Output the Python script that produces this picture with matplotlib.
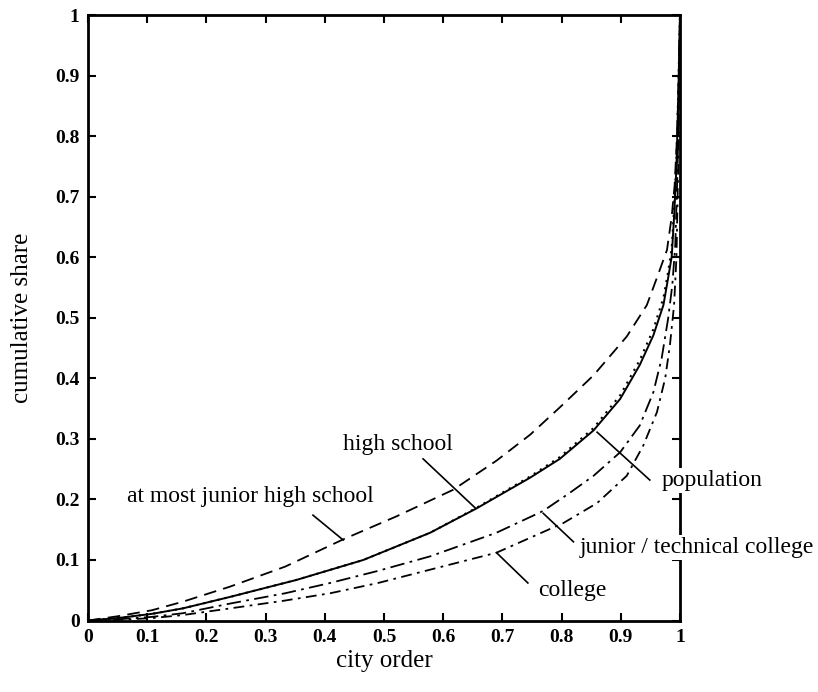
import numpy as np
import matplotlib.pyplot as plt

plt.rcParams['font.family'] = 'Liberation Serif'

# curves (city order vs cumulative share)
x_junior_high = [0, 0.05, 0.108, 0.16, 0.24, 0.333, 0.431, 0.521, 0.617, 0.69, 0.747,
                 0.797, 0.854, 0.91, 0.944, 0.961, 0.978, 0.986, 0.991, 0.995, 0.998, 1.0]
y_junior_high = [0, 0.007, 0.017, 0.031, 0.056, 0.089, 0.134, 0.172, 0.216, 0.264, 0.307,
                 0.352, 0.405, 0.469, 0.521, 0.566, 0.612, 0.667, 0.72, 0.80, 0.90, 1.0]

x_high_school = [0, 0.05, 0.108, 0.16, 0.24, 0.352, 0.465, 0.578, 0.656, 0.747, 0.797,
                 0.854, 0.899, 0.932, 0.955, 0.972, 0.98, 0.986, 0.99, 0.994, 0.997, 1.0]
y_high_school = [0, 0.004, 0.011, 0.02, 0.039, 0.067, 0.1, 0.145, 0.185, 0.236, 0.267,
                 0.314, 0.366, 0.422, 0.471, 0.521, 0.566, 0.601, 0.667, 0.75, 0.86, 1.0]

x_population = [0, 0.05, 0.108, 0.16, 0.24, 0.352, 0.465, 0.578, 0.656, 0.747, 0.797,
                0.854, 0.899, 0.932, 0.955, 0.972, 0.98, 0.986, 0.99, 0.994, 0.997, 1.0]
y_population = [0, 0.004, 0.011, 0.02, 0.039, 0.067, 0.1, 0.145, 0.186, 0.238, 0.27,
                0.318, 0.372, 0.43, 0.481, 0.533, 0.576, 0.615, 0.68, 0.76, 0.87, 1.0]

x_junior_tech = [0, 0.05, 0.108, 0.16, 0.24, 0.333, 0.409, 0.49, 0.578, 0.69, 0.769,
                 0.814, 0.854, 0.899, 0.932, 0.955, 0.969, 0.98, 0.987, 0.992, 0.996, 1.0]
y_junior_tech = [0, 0.002, 0.006, 0.012, 0.028, 0.045, 0.062, 0.082, 0.106, 0.145, 0.181,
                 0.211, 0.239, 0.278, 0.322, 0.377, 0.433, 0.499, 0.554, 0.62, 0.75, 1.0]

x_college = [0, 0.05, 0.108, 0.16, 0.24, 0.333, 0.409, 0.49, 0.578, 0.69, 0.803,
             0.86, 0.91, 0.938, 0.961, 0.975, 0.983, 0.99, 0.994, 0.997, 1.0]
y_college = [0, 0.001, 0.004, 0.009, 0.02, 0.033, 0.045, 0.062, 0.084, 0.112, 0.161,
             0.194, 0.239, 0.289, 0.344, 0.4, 0.455, 0.521, 0.6, 0.75, 1.0]

ticks = [0, 0.1, 0.2, 0.3, 0.4, 0.5, 0.6, 0.7, 0.8, 0.9, 1.0]
tick_labels = ['0', '0.1', '0.2', '0.3', '0.4', '0.5', '0.6', '0.7', '0.8', '0.9', '1']

fig = plt.figure(figsize=(8.18, 6.92), dpi=100)
ax = fig.add_axes([0.1076, 0.1033, 0.7237, 0.875])

ax.plot(x_junior_high, y_junior_high, color='black', lw=1.3, linestyle=(0, (7, 4)))
ax.plot(x_high_school, y_high_school, color='black', lw=1.4, linestyle='-')
ax.plot(x_population, y_population, color='black', lw=1.5, linestyle=(0, (1, 2.5)))
ax.plot(x_junior_tech, y_junior_tech, color='black', lw=1.3, linestyle=(0, (8, 3, 1.5, 3)))
ax.plot(x_college, y_college, color='black', lw=1.3, linestyle=(0, (6, 3, 1.5, 3)))

ax.set_xlim(0, 1)
ax.set_ylim(0, 1)
ax.set_xticks(ticks)
ax.set_xticklabels(tick_labels)
ax.set_yticks(ticks)
ax.set_yticklabels(tick_labels)
ax.tick_params(direction='in', length=6, width=1.5, top=True, right=True, labelsize=14, pad=6)
for lab in ax.get_xticklabels() + ax.get_yticklabels():
    lab.set_fontweight('bold')
for sp in ax.spines.values():
    sp.set_linewidth(2)

ax.set_xlabel('city order', fontsize=18, labelpad=3)
ax.set_ylabel('cumulative share', fontsize=18, labelpad=16)

# labels with leader lines
def label(text, xy_text, start, end, ha='center'):
    ax.plot([start[0], end[0]], [start[1], end[1]], color='black', lw=1.2, clip_on=False)
    ax.text(xy_text[0], xy_text[1], text, fontsize=17, ha=ha, va='center', clip_on=False,
            zorder=5, bbox=dict(facecolor='white', edgecolor='none', pad=1.5))

label('high school', (0.524, 0.29), (0.566, 0.267), (0.654, 0.186))
label('at most junior high school', (0.275, 0.204), (0.38, 0.174), (0.431, 0.133))
label('population', (1.054, 0.231), (0.86, 0.311), (0.949, 0.232))
label('junior / technical college', (1.029, 0.121), (0.769, 0.177), (0.82, 0.13))
label('college', (0.818, 0.05), (0.69, 0.112), (0.743, 0.062))

fig.savefig('out.png', dpi=100)
